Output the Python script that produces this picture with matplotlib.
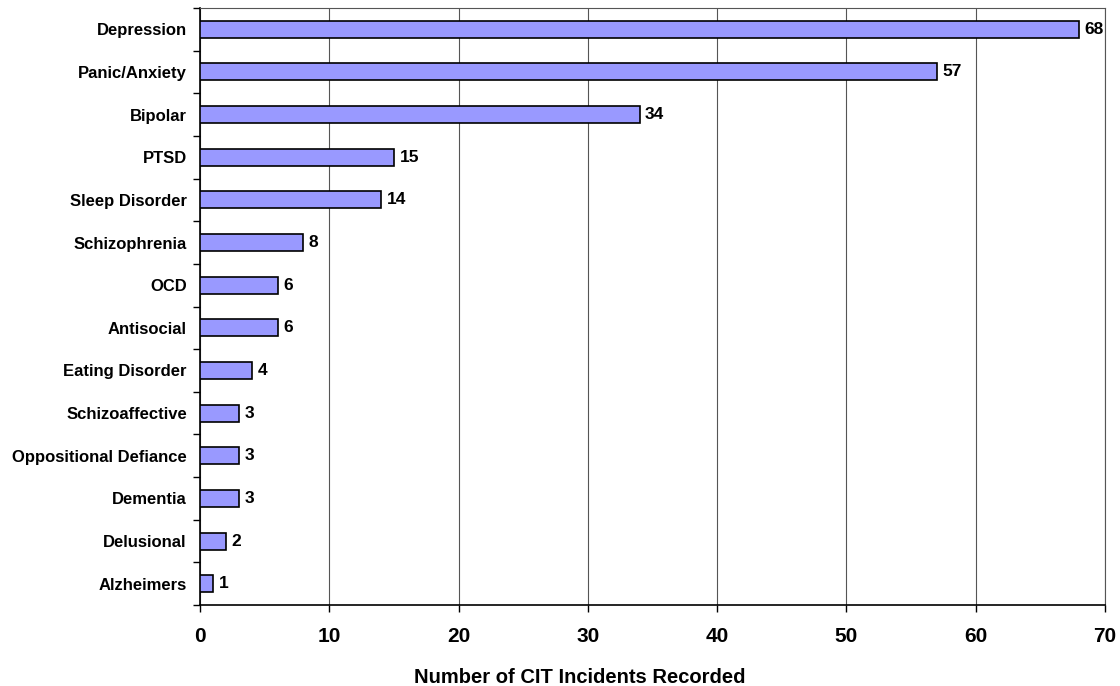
import matplotlib.pyplot as plt
import numpy as np

categories = ["Depression", "Panic/Anxiety", "Bipolar", "PTSD", "Sleep Disorder",
              "Schizophrenia", "OCD", "Antisocial", "Eating Disorder", "Schizoaffective",
              "Oppositional Defiance", "Dementia", "Delusional", "Alzheimers"]
counts = [68, 57, 34, 15, 14, 8, 6, 6, 4, 3, 3, 3, 2, 1]
x_ticks = [0, 10, 20, 30, 40, 50, 60, 70]

plt.rcParams["font.family"] = ["Liberation Sans", "DejaVu Sans"]
plt.rcParams["font.weight"] = "bold"

fig = plt.figure(figsize=(11.2, 6.86), dpi=100)
ax = fig.add_axes([200 / 1120, 1 - 605 / 686, 905 / 1120, 597 / 686])

y = np.arange(len(categories))
ax.barh(y, counts, height=0.4, color="#9999FF", edgecolor="black", linewidth=1.2, zorder=3)

for yi, v in zip(y, counts):
    ax.annotate(str(v), (v, yi), xytext=(4, 0), textcoords="offset points",
                va="center", ha="left", fontsize=12.5, fontweight="bold")

ax.set_xlim(0, 70)
ax.set_ylim(len(categories) - 0.5, -0.5)
ax.set_xticks(x_ticks)
ax.set_xticklabels([str(t) for t in x_ticks], fontsize=15, fontweight="bold")
ax.set_yticks(y)
ax.set_yticklabels(categories, fontsize=12, fontweight="bold")
ax.set_yticks(np.arange(len(categories) + 1) - 0.5, minor=True)
ax.tick_params(axis="y", which="major", length=0, pad=9.5)
ax.tick_params(axis="y", which="minor", length=5, direction="out", width=1)
ax.tick_params(axis="x", which="major", length=5, direction="out", width=1, pad=11)

ax.grid(axis="x", color="#555555", linewidth=0.8, zorder=0)
for side in ["top", "right"]:
    ax.spines[side].set_color("#555555")
    ax.spines[side].set_linewidth(0.8)
for side in ["left", "bottom"]:
    ax.spines[side].set_color("black")
    ax.spines[side].set_linewidth(1.2)

ax.set_xlabel("Number of CIT Incidents Recorded", fontsize=14.5, fontweight="bold")
# the label in the original sits left of the axes centre
ax.xaxis.set_label_coords(0.42, -0.105)

fig.savefig("out.png", dpi=100)
